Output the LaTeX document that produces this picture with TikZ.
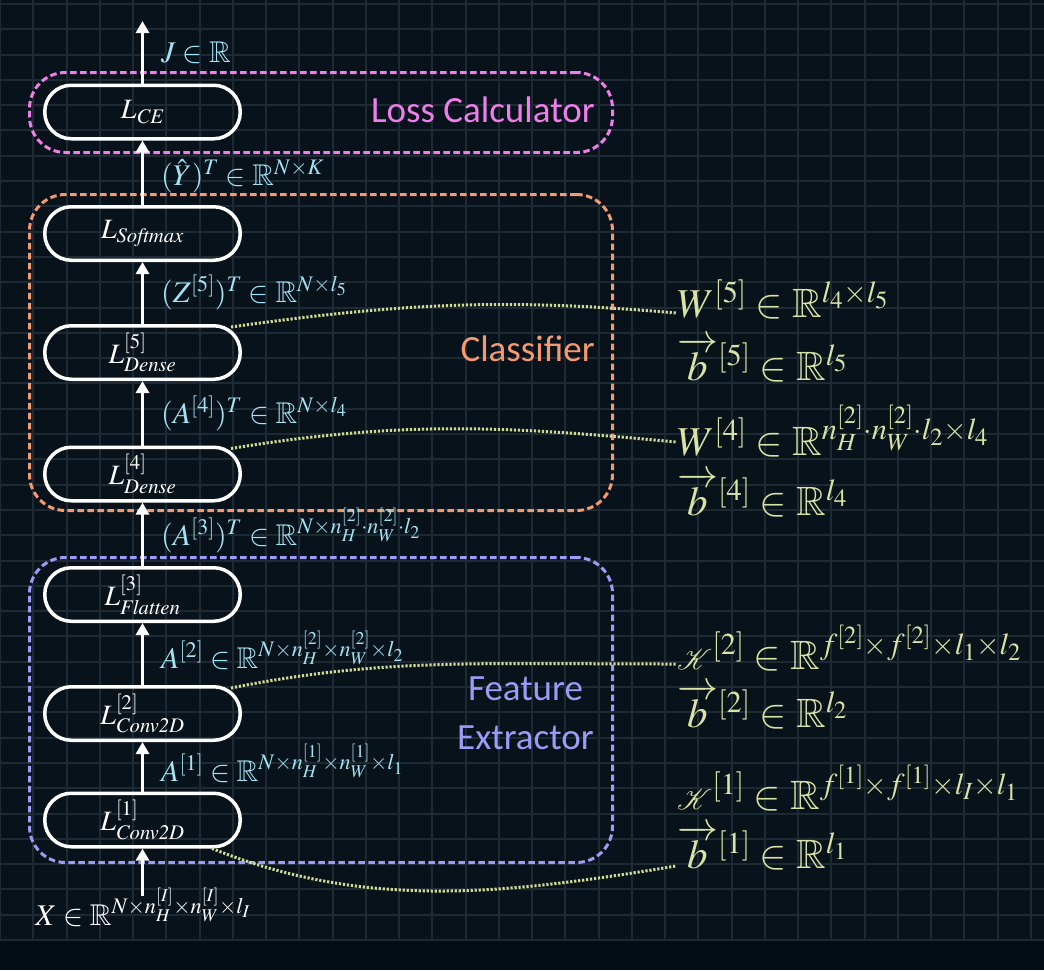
\documentclass[tikz,border=0pt]{standalone}
\usepackage{amssymb}
\usepackage{mathptmx}
\usepackage{mathrsfs}
\DeclareFontFamily{U}{rsfs}{\skewchar\font127 }
\DeclareFontShape{U}{rsfs}{m}{n}{<-> s*[0.7] rsfs10}{}
\usepackage[no-math]{fontspec}
\newfontfamily\calib{Carlito}
\usetikzlibrary{calc,arrows.meta}
\definecolor{bgmain}{HTML}{08121B}
\definecolor{bgband}{HTML}{040C14}
\definecolor{gridc}{HTML}{1D2933}
\definecolor{cyanl}{HTML}{A2E4F5}
\definecolor{pinkc}{HTML}{F07EEA}
\definecolor{orangec}{HTML}{F5996E}
\definecolor{bluec}{HTML}{9A9CF5}
\definecolor{paramc}{HTML}{D9E3A5}
\definecolor{dotc}{HTML}{D0DA92}
\tikzset{
  lyrbox/.style={draw=white, line width=3.5pt, rounded corners=26.5pt, minimum width=195.5pt, minimum height=53.5pt, inner sep=0pt, text=white, font=\fontsize{28}{32}\selectfont},
  grpbox/.style={line width=3pt, dash pattern=on 6.5pt off 3.5pt, rounded corners=36pt, minimum width=583pt, inner sep=0pt},
  grplabel/.style={font=\calib\fontsize{37}{49}\selectfont, inner sep=0pt},
  flowarrow/.style={draw=white, line width=3pt, -{Triangle[width=13pt,length=12pt]}},
  dimlabel/.style={text=cyanl, font=\fontsize{30}{34}\selectfont, inner sep=0pt, anchor=base west},
  paramlabel/.style={text=paramc, font=\fontsize{41}{47}\selectfont, inner sep=0pt, anchor=base west},
  paramlink/.style={draw=dotc, line width=3pt, dash pattern=on 2.2pt off 1.8pt},
}
\begin{document}
\begin{tikzpicture}[x=1pt,y=-1pt]
\useasboundingbox (0,0) rectangle (1044,970);
\fill[bgband] (0,0) rectangle (1044,970);
\fill[bgmain] (0,0) rectangle (1044,940);
\foreach \k in {0,...,31} \draw[gridc, line width=2pt] (33.25*\k,0) -- (33.25*\k,940);
\foreach \k in {0,...,37} \draw[gridc, line width=2pt] (0,940-25.3*\k) -- (1044,940-25.3*\k);

% parameter labels
\node[paramlabel] (w5) at (677,317) {$W^{[5]}\in\mathbb{R}^{l_4\times l_5}$};
\node[paramlabel] (b5) at (677,380) {$\overrightarrow{b}{}^{[5]}\in\mathbb{R}^{l_5}$};
\node[paramlabel] (w4) at (677,455) {$W^{[4]}\in\mathbb{R}^{n_H^{[2]}\cdot n_W^{[2]}\cdot l_2\times l_4}$};
\node[paramlabel] (b4) at (677,515) {$\overrightarrow{b}{}^{[4]}\in\mathbb{R}^{l_4}$};
\node[paramlabel] (k2) at (677,669) {$\mathscr{K}^{[2]}\in\mathbb{R}^{f^{[2]}\times f^{[2]}\times l_1\times l_2}$};
\node[paramlabel] (b2) at (677,727) {$\overrightarrow{b}{}^{[2]}\in\mathbb{R}^{l_2}$};
\node[paramlabel] (k1) at (677,809) {$\mathscr{K}^{[1]}\in\mathbb{R}^{f^{[1]}\times f^{[1]}\times l_I\times l_1}$};
\node[paramlabel] (b1) at (677,868) {$\overrightarrow{b}{}^{[1]}\in\mathbb{R}^{l_1}$};

% groups
\node[grpbox, draw=pinkc, minimum height=80pt] (gloss) at (321,112.5) {};
\node[grpbox, draw=orangec, minimum height=316pt] (gcls) at (321,352.5) {};
\node[grpbox, draw=bluec, minimum height=305pt] (gfeat) at (321,710) {};
\node[grplabel, text=pinkc, anchor=base east] (tloss) at (595,122.5) {Loss Calculator};
\node[grplabel, text=orangec, anchor=base east] (tcls) at (595,361) {Classifier};
\node[grplabel, text=bluec, align=center, anchor=north] (tfeat) at (525.5,677) {Feature\\Extractor};

% layers
\node[lyrbox] (lce) at (142.5,112) {$L_{\mathit{CE}}$};
\node[lyrbox] (lsm) at (142.5,233.5) {$L_{\mathit{Softmax}}$};
\node[lyrbox] (ld5) at (142.5,352.5) {$L^{[5]}_{\mathit{Dense}}$};
\node[lyrbox] (ld4) at (142.5,474) {$L^{[4]}_{\mathit{Dense}}$};
\node[lyrbox] (lfl) at (142.5,594.5) {$L^{[3]}_{\mathit{Flatten}}$};
\node[lyrbox] (lc2) at (142.5,713.5) {$L^{[2]}_{\mathit{Conv2D}}$};
\node[lyrbox] (lc1) at (142.5,820) {$L^{[1]}_{\mathit{Conv2D}}$};

% parameter links
\draw[paramlink] ($(ld5.east)+(-11,-25.5)$) .. controls +(170,-24) and +(-170,-15) .. ($(w5.base west)+(-1,-4)$);
\draw[paramlink] ($(ld4.east)+(-11,-25.5)$) .. controls +(170,-28) and +(-170,-16) .. ($(w4.base west)+(-1,-13)$);
\draw[paramlink] ($(lc2.east)+(-11,-25.5)$) .. controls +(150,-30) and +(-200,0) .. ($(k2.base west)+(-1,-5)$);
\draw[paramlink] ($(lc1.south east)+(-30,0)$) .. controls +(150,60) and +(-180,30) .. ($(b1.base west)+(-1,-2)$);

% flow arrows
\coordinate (jout) at (142.5,21);
\coordinate (xin) at (142.5,896);
\draw[flowarrow] (lce.north) -- (jout);
\draw[flowarrow] (lsm.north) -- (lce.south);
\draw[flowarrow] (ld5.north) -- (lsm.south);
\draw[flowarrow] (ld4.north) -- (ld5.south);
\draw[flowarrow] (lfl.north) -- (ld4.south);
\draw[flowarrow] (lc2.north) -- (lfl.south);
\draw[flowarrow] (lc1.north) -- (lc2.south);
\draw[flowarrow] (xin) -- (lc1.south);

% dimension labels
\node[dimlabel] (tj) at (161,62) {$J\in\mathbb{R}$};
\node[dimlabel] (ty) at (161,185) {$(\hat{Y})^T\in\mathbb{R}^{N\times K}$};
\node[dimlabel] (tz5) at (161,302) {$(Z^{[5]})^T\in\mathbb{R}^{N\times l_5}$};
\node[dimlabel] (ta4) at (161,423) {$(A^{[4]})^T\in\mathbb{R}^{N\times l_4}$};
\node[dimlabel] (ta3) at (161,545) {$(A^{[3]})^T\in\mathbb{R}^{N\times n_H^{[2]}\cdot n_W^{[2]}\cdot l_2}$};
\node[dimlabel] (ta2) at (161,668) {$A^{[2]}\in\mathbb{R}^{N\times n_H^{[2]}\times n_W^{[2]}\times l_2}$};
\node[dimlabel] (ta1) at (161,781) {$A^{[1]}\in\mathbb{R}^{N\times n_H^{[1]}\times n_W^{[1]}\times l_1}$};
\node[dimlabel, text=white, anchor=base] (tx) at (143,925) {$X\in\mathbb{R}^{N\times n_H^{[I]}\times n_W^{[I]}\times l_I}$};
\end{tikzpicture}
\end{document}
